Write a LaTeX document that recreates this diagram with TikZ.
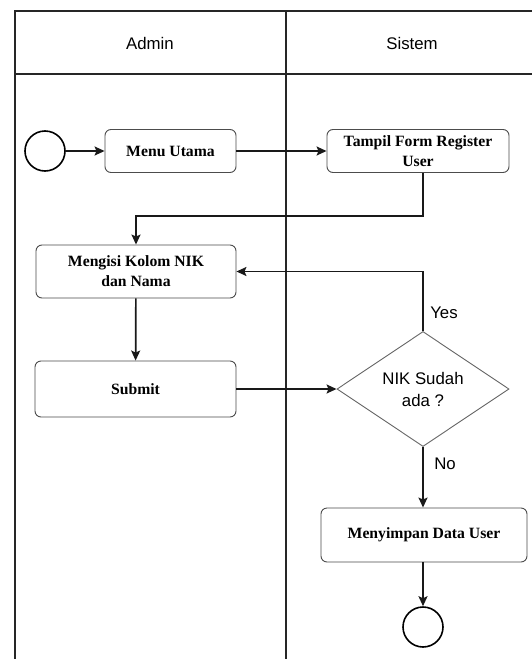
\documentclass[tikz,border=0pt]{standalone}
\usepackage{fontspec}
\setmainfont{Liberation Serif}
\newfontfamily\lanefont{Liberation Sans}
\usetikzlibrary{arrows.meta,shapes.geometric}
\begin{document}
\begin{tikzpicture}[x=1pt,y=-1pt,
  lane/.style={line width=2.2pt, draw=black!85},
  lanetitle/.style={font=\lanefont\fontsize{16.8}{19}\selectfont},
  act/.style={draw=black!70, line width=0.9pt, rounded corners=6pt, fill=white,
    align=center, inner sep=0pt, minimum height=43pt,
    font=\bfseries\fontsize{15.7}{20}\selectfont},
  decide/.style={diamond, draw=black!60, line width=0.9pt, fill=white, aspect=1.5,
    inner sep=0pt, minimum width=172pt, minimum height=115pt, align=center,
    font=\lanefont\fontsize{16.8}{22}\selectfont},
  terminal/.style={circle, draw=black, line width=1.6pt, minimum size=40pt, inner sep=0pt},
  flow/.style={line width=1.7pt, draw=black!90, -{Stealth[length=10pt,width=9pt,inset=2pt]}},
  guard/.style={font=\lanefont\fontsize{16.8}{19}\selectfont}]
\useasboundingbox (0,0) rectangle (532,659);
\fill[white] (0,0) rectangle (532,659);

% swimlanes
\draw[lane] (532,11) -- (15,11) -- (15,659);
\draw[lane] (15,74) -- (532,74);
\draw[lane] (286,11) -- (286,659);
\node[lanetitle] (admin) at (150,43) {Admin};
\node[lanetitle] (sistem) at (412,43) {Sistem};

% activities
\node[terminal] (start) at (45,151) {};
\node[act, minimum width=131pt] (menu) at (170.5,151) {Menu Utama};
\node[act, minimum width=182pt] (form) at (418,151) {Tampil Form Register\\User};
\node[act, minimum width=200pt, minimum height=53pt] (isi) at (136,271.5) {Mengisi Kolom NIK\\dan Nama};
\node[act, minimum width=201pt, minimum height=56pt] (submit) at (135.5,389) {Submit};
\node[decide] (cek) at (423,389) {NIK Sudah\\ada ?};
\node[act, minimum width=206pt, minimum height=54pt] (simpan) at (424,535) {Menyimpan Data User};
\node[terminal] (end) at (423,627) {};

% guards
\node[guard] (yes) at (444,313) {Yes};
\node[guard] (no) at (445,464) {No};

% control flow
\draw[flow] (start) -- (menu);
\draw[flow] (menu) -- (form);
\draw[flow] (form.south -| cek.north) -- ++(0,43) -| (isi.north);
\draw[flow] (cek.north) |- (isi.east);
\draw[flow] (isi) -- (submit);
\draw[flow] (submit) -- (cek);
\draw[flow] (cek.south) -- (cek.south |- simpan.north);
\draw[flow] (simpan.south -| end.north) -- (end.north);
\end{tikzpicture}
\end{document}
